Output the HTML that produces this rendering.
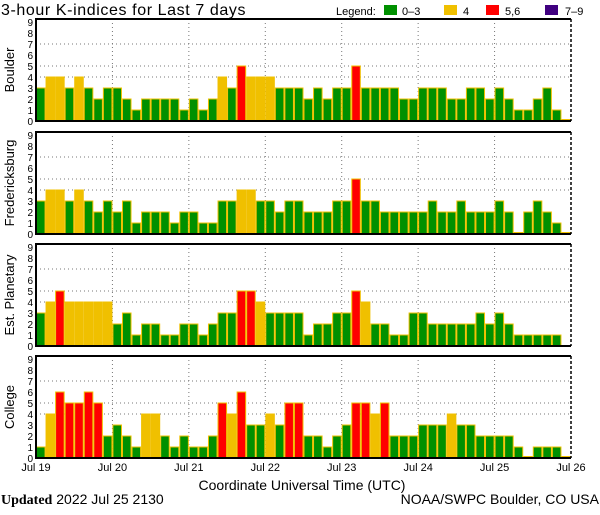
<!DOCTYPE html>
<html><head><meta charset="utf-8"><style>
body{margin:0;background:#fff}
svg text{font-family:"Liberation Sans","DejaVu Sans",sans-serif}
</style></head><body>
<svg id="c" width="600" height="510" xmlns="http://www.w3.org/2000/svg">
<text x="1" y="15" font-size="16" letter-spacing="0.6">3-hour K-indices for Last 7 days</text>
<g font-size="11">
<text x="336" y="15">Legend:</text>
<rect x="384" y="5" width="13" height="10" fill="#009000"/>
<text x="402" y="15">0–3</text>
<rect x="444" y="5" width="13" height="10" fill="#f0c000"/>
<text x="463" y="15">4</text>
<rect x="486" y="5" width="13" height="10" fill="#ff0000"/>
<text x="505" y="15">5,6</text>
<rect x="545" y="5" width="13" height="10" fill="#400080"/>
<text x="565" y="15">7–9</text>
</g>
<text x="302" y="490" font-size="14" text-anchor="middle">Coordinate Universal Time (UTC)</text>
<text x="1" y="504" font-size="14"><tspan font-weight="bold" font-family="Liberation Serif,serif">Updated</tspan> 2022 Jul 25 2130</text>
<text x="599" y="504" font-size="14" text-anchor="end">NOAA/SWPC Boulder, CO USA</text>
</svg>
<script>
const stations = ["Boulder","Fredericksburg","Est. Planetary","College"];
const boulder = [3,4,4,3,4,3,2,3,3,2,1,2,2,2,2,1,2,1,2,4,3,5,4,4,4,3,3,3,2,3,2,3,3,5,3,3,3,3,2,2,3,3,3,2,2,3,3,2,3,2,1,1,2,3,1,0];
const fredericksburg = [3,4,4,3,4,3,2,3,2,3,1,2,2,2,1,2,2,1,1,3,3,4,4,3,3,2,3,3,2,2,2,3,3,5,3,3,2,2,2,2,2,3,2,2,3,2,2,2,3,2,0,2,3,2,1,0];
const planetary = [3,4,5,4,4,4,4,4,2,3,1,2,2,1,1,2,2,1,2,3,3,5,5,4,3,3,3,3,1,2,2,3,3,5,4,2,2,1,1,3,3,2,2,2,2,2,3,2,3,2,1,1,1,1,1,null];
const college = [1,4,6,5,5,6,5,2,3,2,1,4,4,2,1,2,1,1,2,5,4,6,3,3,4,3,5,5,2,2,1,2,3,5,5,4,5,2,2,2,3,3,3,4,3,3,2,2,2,2,1,0,1,1,1,0];
const dayLabels = ["Jul 19","Jul 20","Jul 21","Jul 22","Jul 23","Jul 24","Jul 25","Jul 26"];
const yTicks = [0,1,2,3,4,5,6,7,8,9];
const gridLevels = [4,5,7];
const series = [boulder,fredericksburg,planetary,college];

const svg = document.getElementById('c');
const NS = "http://www.w3.org/2000/svg";
const L=36, R=571, panelTops=[19,132,244,356], PH=102, unit=11, nBars=56;
const bw=(R-L)/nBars;
const xs=i=>L+i*bw;
const dayX=d=>L+d*(R-L)/7;
function mk(t,a){const e=document.createElementNS(NS,t);for(const k in a)e.setAttribute(k,a[k]);svg.appendChild(e);return e;}
function color(v){return v>=7?"#400080":v>=5?"#ff0000":v===4?"#f0c000":"#009000";}
series.forEach((data,p)=>{
  const top=panelTops[p], bot=top+PH;
  const ys=v=>bot-v*unit;
  const bg=mk('rect',{x:L,y:top,width:R-L,height:PH,fill:'#fff'});
  
  
  gridLevels.forEach(g=>{const l=mk('line',{x1:L,x2:R,y1:ys(g),y2:ys(g),stroke:'#777','stroke-dasharray':'1 3'});
    
    });
  for(let d=1;d<7;d++){const l=mk('line',{x1:dayX(d),x2:dayX(d),y1:top,y2:bot,stroke:'#777','stroke-dasharray':'1 3'});
    
    }
  data.forEach((v,i)=>{
    if(v===null)return;
    const h=Math.max(v*unit,1.5);
    const r=mk('rect',{x:xs(i)+0.5,y:bot-h,width:bw-1,height:h,fill:color(v),stroke:'#f0c000','stroke-width':1});
    
    
  });
  const f=mk('path',{d:`M${R},${top}H${L}V${bot}H${R}`,fill:'none',stroke:'#000','stroke-width':2});
  
  
  const rf=mk('line',{x1:R,x2:R,y1:top,y2:bot,stroke:'#000','stroke-width':1.5,'stroke-dasharray':'3 2'});
  
  
  yTicks.forEach(t=>{const tx=mk('text',{x:33,y:ys(t)+4,'font-size':10,'text-anchor':'end'});tx.textContent=t;
    
    });
  const cy=top+PH/2;
  const st=mk('text',{x:0,y:0,'font-size':13,'text-anchor':'middle',transform:`translate(14,${cy}) rotate(-90)`});
  st.textContent=stations[p];
  
  
});
dayLabels.forEach((d,i)=>{const t=mk('text',{x:dayX(i),y:471,'font-size':11,'text-anchor':'middle'});t.textContent=d;
  
  });
</script>
</body></html>
